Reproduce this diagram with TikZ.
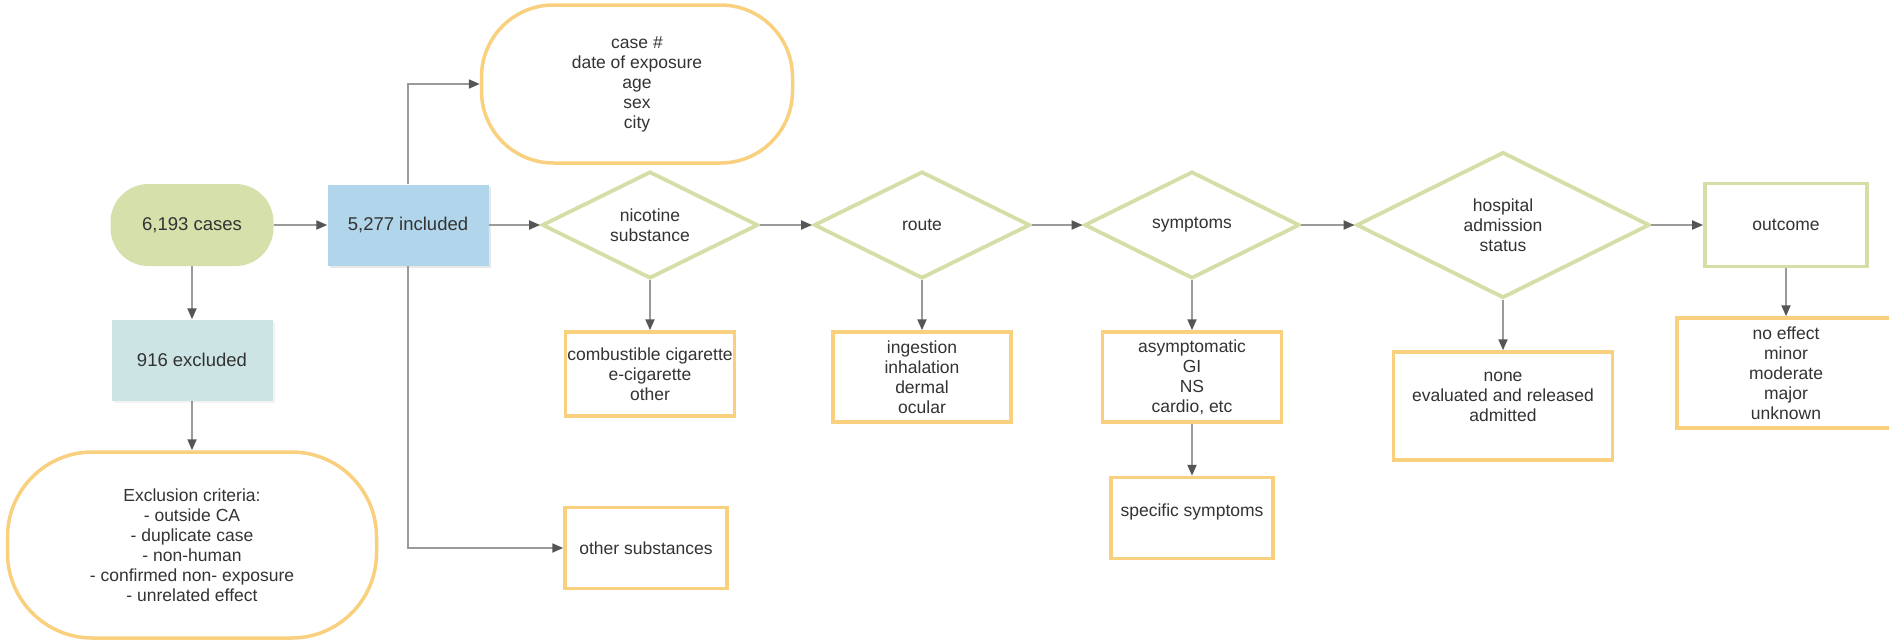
\documentclass[tikz,border=0pt]{standalone}
\usepackage{xcolor}
\usepackage{fontspec}
\setmainfont{Liberation Sans}
\usepackage{tikz}
\usetikzlibrary{positioning}
\usetikzlibrary{shapes.geometric}
\usetikzlibrary{shadows}
\usetikzlibrary{arrows, arrows.meta}

\definecolor{casegreen}{HTML}{D5E0AA}
\definecolor{inclblue}{HTML}{B1D5EA}
\definecolor{exclteal}{HTML}{CCE4E3}
\definecolor{boxorange}{HTML}{F9D07E}
\definecolor{boxgreen}{HTML}{D4DFA7}
\definecolor{linegray}{HTML}{9A9A9A}
\definecolor{tipgray}{HTML}{555555}
\definecolor{txtgray}{HTML}{333333}

\tikzset{
  every node/.style={font=\fontsize{17.5}{20}\selectfont, text=txtgray, align=center, inner sep=0pt},
  bigtext/.style={font=\fontsize{18.5}{21}\selectfont},
  conn/.style={draw=linegray, line width=2pt, -{Triangle[length=11pt, width=9pt, color=tipgray]}},
  startnode/.style={rectangle, bigtext, fill=casegreen, rounded corners=38pt, minimum width=163pt, minimum height=82pt},
  inclbox/.style={rectangle, bigtext, fill=inclblue, minimum width=161pt, minimum height=81pt,
    drop shadow={opacity=0.18, shadow xshift=2pt, shadow yshift=-2pt}},
  exclbox/.style={rectangle, bigtext, fill=exclteal, minimum width=161pt, minimum height=81pt,
    drop shadow={opacity=0.10, shadow xshift=2pt, shadow yshift=-2pt}},
  pillbox/.style={rectangle, draw=boxorange, line width=3.5pt, fill=white},
  decision/.style={diamond, draw=boxgreen, line width=3.8pt, fill=white, aspect=2},
  optbox/.style={rectangle, draw=boxorange, line width=3.5pt, fill=white},
  endbox/.style={rectangle, draw=boxgreen, line width=3.8pt, fill=white, minimum width=162pt, minimum height=83pt}
}

\begin{document}
\begin{tikzpicture}[x=1pt, y=-1pt]
  \useasboundingbox (0,0) rectangle (1889,640);

  % selection of cases
  \node[startnode] (cases) at (192,225) {6,193 cases};
  \node[inclbox] (incl) at (408,225) {5,277 included};
  \node[exclbox] (excl) at (192,360) {916 excluded};
  \node[pillbox, rounded corners=85pt, minimum width=369pt, minimum height=186pt] (crit) at (192,545)
    {Exclusion criteria:\\- outside CA\\- duplicate case\\- non-human\\- confirmed non- exposure\\- unrelated effect};
  \node[pillbox, rounded corners=72pt, minimum width=311pt, minimum height=158pt] (demo) at (637,84)
    {case \#\\date of exposure\\age\\sex\\city};
  \node[optbox, minimum width=162pt, minimum height=81pt] (other) at (646,548) {other substances};

  % decisions along the row
  \node[decision, minimum width=216pt, minimum height=107pt] (nic) at (650,225) {nicotine\\substance};
  \node[decision, minimum width=216pt, minimum height=107pt] (route) at (922,225) {route};
  \node[decision, minimum width=215pt, minimum height=107pt] (symp) at (1192,225) {symptoms};
  \node[decision, minimum width=293pt, minimum height=146pt] (hosp) at (1503,225) {hospital\\admission\\status};
  \node[endbox] (outc) at (1786,225) {outcome};

  % categories below
  \node[optbox, minimum width=169pt, minimum height=84pt] (nicopt) at (650,374)
    {combustible cigarette\\e-cigarette\\other};
  \node[optbox, minimum width=178pt, minimum height=90pt] (routeopt) at (922,377)
    {ingestion\\inhalation\\dermal\\ocular};
  \node[optbox, minimum width=179pt, minimum height=90pt] (sympopt) at (1192,377)
    {asymptomatic\\GI\\NS\\cardio, etc};
  \node[optbox, minimum width=162pt, minimum height=81pt] (spec) at (1192,518) {};
  \node (spectxt) at (1192,512) {specific symptoms};
  \node[optbox, minimum width=219pt, minimum height=108pt] (hospopt) at (1503,406) {};
  \node (hosptxt) at (1503,397) {none\\evaluated and released\\admitted};
  \node[optbox, minimum width=218pt, minimum height=110pt] (outcopt) at (1786,373)
    {no effect\\minor\\moderate\\major\\unknown};

  % connectors
  \draw[conn] (cases) -- (incl);
  \draw[conn] (cases) -- (excl);
  \draw[conn] (excl) -- (crit);
  \draw[conn] (incl.north) |- (demo.west);
  \draw[conn] (incl.south) |- (other.west);
  \draw[conn] (incl) -- (nic);
  \draw[conn] (nic) -- (route);
  \draw[conn] (route) -- (symp);
  \draw[conn] (symp) -- (hosp);
  \draw[conn] (hosp) -- (outc);
  \draw[conn] (nic) -- (nicopt);
  \draw[conn] (route) -- (routeopt);
  \draw[conn] (symp) -- (sympopt);
  \draw[conn] (sympopt) -- (spec);
  \draw[conn] (hosp) -- (hospopt);
  \draw[conn] (outc) -- (outcopt);
\end{tikzpicture}
\end{document}
